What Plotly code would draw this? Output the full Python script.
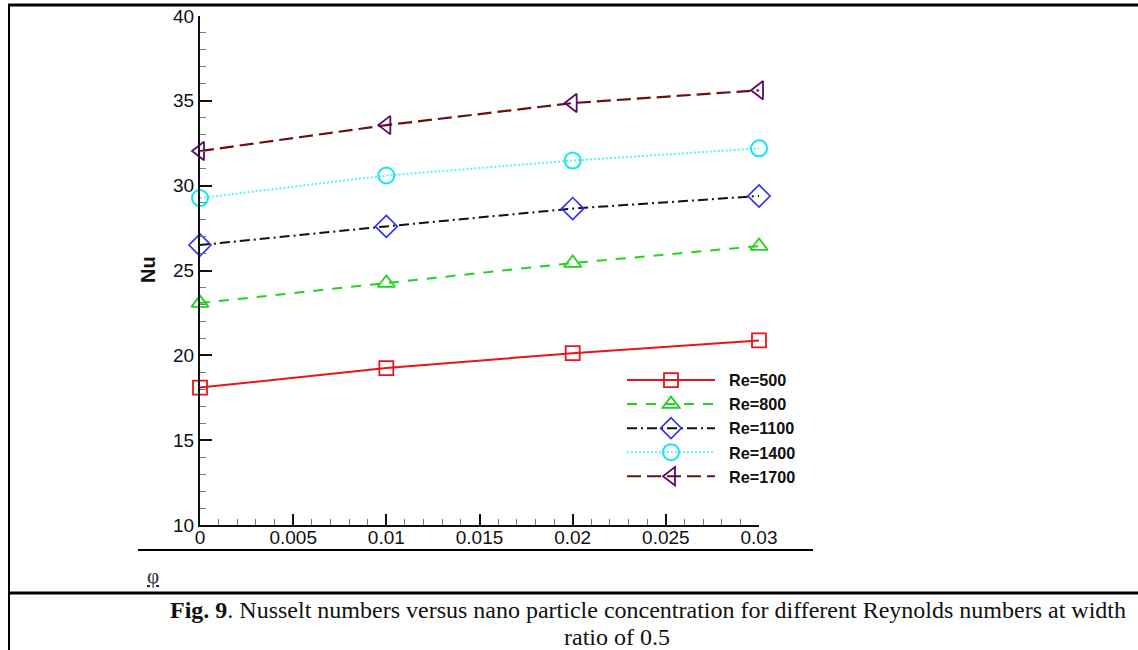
import plotly.graph_objects as go

# ---- data ----
phi = [0.0, 0.01, 0.02, 0.03]
series_names = ["Re=500", "Re=800", "Re=1100", "Re=1400", "Re=1700"]
nu_re500 = [18.1, 19.25, 20.13, 20.88]
nu_re800 = [23.08, 24.26, 25.44, 26.44]
nu_re1100 = [26.5, 27.6, 28.65, 29.39]
nu_re1400 = [29.27, 30.6, 31.48, 32.2]
nu_re1700 = [32.04, 33.57, 34.87, 35.62]
x_tickvals = [0, 0.005, 0.01, 0.015, 0.02, 0.025, 0.03]
x_ticktext = ["0", "0.005", "0.01", "0.015", "0.02", "0.025", "0.03"]
y_tickvals = [10, 15, 20, 25, 30, 35, 40]

# ---- geometry (pixels) ----
W, H = 1138, 650
L, R = 200, 759
T, B = 16, 525
PW, PH = R - L, B - T


def px(x):
    return (x - L) / PW


def py(y):
    return (B - y) / PH


styles = [
    dict(line=dict(color="#e8141c", width=2, dash="solid"),
         marker=dict(symbol="square-open", color="#e8141c", size=14, line=dict(width=1.8))),
    dict(line=dict(color="#1ed41e", width=2, dash="10px,9px"),
         marker=dict(symbol="triangle-up-open", color="#1ed41e", size=15, line=dict(width=1.8))),
    dict(line=dict(color="#111111", width=2, dash="10px,4px,2px,4px"),
         marker=dict(symbol="diamond-open", color="#2e2ef0", size=17, line=dict(width=1.6))),
    dict(line=dict(color="#5ef2f2", width=2, dash="2px,2px"),
         marker=dict(symbol="circle-open", color="#12e6ee", size=16, line=dict(width=2))),
    dict(line=dict(color="#6a1010", width=2.2, dash="14px,6px"),
         marker=dict(symbol="triangle-left-open", color="#5a0a6a", size=16, line=dict(width=1.8))),
]
all_values = [nu_re500, nu_re800, nu_re1100, nu_re1400, nu_re1700]

fig = go.Figure()
for name, vals, st in zip(series_names, all_values, styles):
    fig.add_trace(go.Scatter(x=phi, y=vals, name="\u00a0\u00a0" + name, mode="lines+markers",
                             line=st["line"], marker=st["marker"], cliponaxis=False))

fig.update_layout(
    width=W, height=H,
    margin=dict(l=L, r=W - R, t=T, b=H - B, pad=0, autoexpand=False),
    paper_bgcolor="white", plot_bgcolor="white",
    font=dict(family="Liberation Sans, Arial", color="#111"),
    showlegend=True,
    legend=dict(x=px(622), y=py(363), xanchor="left", yanchor="top",
                bgcolor="rgba(0,0,0,0)", itemwidth=88,
                font=dict(size=16.2, family="Liberation Sans, Arial", color="#111", weight="bold"),
                tracegroupgap=0, itemclick=False),
    xaxis=dict(range=[0, 0.03], tickvals=x_tickvals, ticktext=x_ticktext, automargin=False,
               showgrid=False, zeroline=False, showline=True, linecolor="#111", linewidth=2,
               ticks="inside", ticklen=11, tickwidth=2, tickcolor="#111",
               ticklabelstandoff=-6,
               tickfont=dict(size=19, color="#111"),
               minor=dict(dtick=0.001, ticks="inside", ticklen=6, tickwidth=1, tickcolor="#777")),
    yaxis=dict(range=[10, 40], tickvals=y_tickvals, automargin=False,
               showgrid=False, zeroline=False, showline=True, linecolor="#111", linewidth=2,
               ticks="inside", ticklen=12, tickwidth=2, tickcolor="#111",
               tickfont=dict(size=19, color="#111"),
               minor=dict(dtick=1, ticks="inside", ticklen=6, tickwidth=1, tickcolor="#777")),
)

# frame lines of the page
frame = [
    (8, 5, W, 5, 3),
    (9, 5, 9, H, 2),
    (9, 593, W, 593, 3),
    (138, 550, 813, 550, 2),
]
for x0, y0, x1, y1, w in frame:
    fig.add_shape(type="line", xref="paper", yref="paper",
                  x0=px(x0), y0=py(y0), x1=px(x1), y1=py(y1),
                  line=dict(color="black", width=w))

fig.add_annotation(text="<b>Nu</b>", xref="paper", yref="paper", x=px(148), y=py(270),
                   textangle=-90, showarrow=False, font=dict(size=20, color="#111"),
                   xanchor="center", yanchor="middle")
fig.add_annotation(text="<u>φ</u>", xref="paper", yref="paper", x=px(153), y=py(576),
                   showarrow=False, font=dict(size=21, color="#2a2a40", family="Liberation Serif"),
                   xanchor="center", yanchor="middle")
fig.add_annotation(text="<b>Fig. 9</b>. Nusselt numbers versus nano particle concentration for different Reynolds numbers at width",
                   xref="paper", yref="paper", x=px(648), y=py(610), showarrow=False,
                   font=dict(size=24, color="#111", family="Liberation Serif"),
                   xanchor="center", yanchor="middle")
fig.add_annotation(text="ratio of 0.5", xref="paper", yref="paper", x=px(617), y=py(637),
                   showarrow=False, font=dict(size=24, color="#111", family="Liberation Serif"),
                   xanchor="center", yanchor="middle")

fig.write_html("out.html")
